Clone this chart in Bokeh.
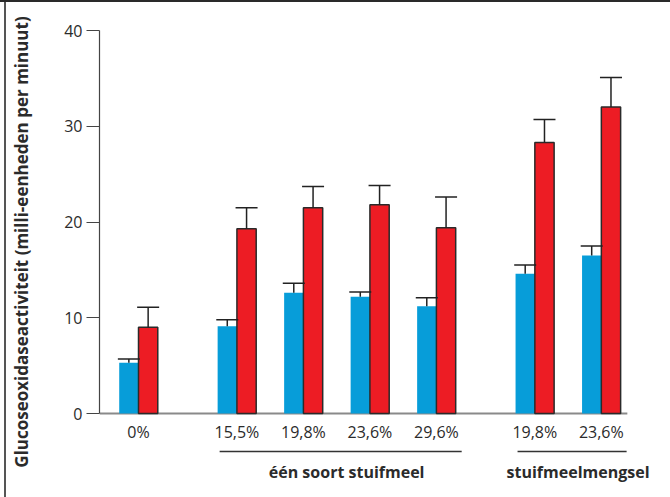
import math
from bokeh.plotting import figure
from bokeh.models import (ColumnDataSource, FixedTicker, Range1d, Whisker, TeeHead,
                          LinearAxis)
from bokeh.core.properties import value
from bokeh.embed import file_html
from bokeh.resources import INLINE

# ---- data -------------------------------------------------------------
categories = ["0%", "15,5%", "19,8%", "23,6%", "29,6%", "19,8%", "23,6%"]
group_index = [0, 1, 1, 1, 1, 2, 2]
group_names = ["", "één soort stuifmeel", "stuifmeelmengsel"]
blue_values = [5.3, 9.1, 12.6, 12.2, 11.2, 14.6, 16.5]
blue_upper = [5.7, 9.8, 13.6, 12.7, 12.1, 15.5, 17.5]
red_values = [9.0, 19.3, 21.5, 21.8, 19.4, 28.3, 32.0]
red_upper = [11.1, 21.5, 23.7, 23.8, 22.6, 30.7, 35.1]
y_ticks = [0, 10, 20, 30, 40]
y_label = "Glucoseoxidaseactiviteit (milli-eenheden per minuut)"

# ---- layout / style ---------------------------------------------------
FONT = "Open Sans"
TXT = "#2b2b2b"
BLUE = "#079dd9"
RED = "#ed1c24"
GROUP_GAP = 0.48
BAR_W = 0.29
W, H = 670, 497
LEFT, TOP, BOTTOM = 99, 30, 44   # frame borders in pixels
PX_X = 66.5                      # pixels per category step
PX_Y = 383 / 40                  # pixels per y unit
ZERO_PX = 40                     # distance of y=0 above the frame bottom

pos = [i + GROUP_GAP * g for i, g in enumerate(group_index)]
xb = [x - BAR_W / 2 for x in pos]
xr = [x + BAR_W / 2 for x in pos]

x_start = pos[0] - 39 / PX_X
x_end = x_start + (W - LEFT) / PX_X
y_start = -ZERO_PX / PX_Y

src_b = ColumnDataSource(dict(x=xb, v=blue_values, up=blue_upper))
src_r = ColumnDataSource(dict(x=xr, v=red_values, up=red_upper))

p = figure(width=W, height=H,
           x_range=Range1d(x_start, x_end), y_range=Range1d(y_start, 40),
           output_backend="svg", toolbar_location=None, x_axis_location=None,
           min_border_left=LEFT, min_border_right=0,
           min_border_top=TOP, min_border_bottom=BOTTOM)
p.outline_line_color = None
p.grid.visible = False
p.background_fill_color = "white"
p.border_fill_color = None
p.styles = {
    "background-color": "white",
    "background-image": "linear-gradient(#2a2a2a, #2a2a2a), linear-gradient(#555555, #555555)",
    "background-size": "100% 2px, 2px 100%",
    "background-position": "0 0, 4px 0",
    "background-repeat": "no-repeat",
}

# baseline (x axis line)
p.segment(x0=[x_start], y0=[0], x1=[pos[-1] + 26 / PX_X], y1=[0],
          line_color="#8a8a8a", line_width=2)

p.vbar(x="x", top="v", bottom=0, width=BAR_W, source=src_b,
       fill_color=BLUE, line_color=None)
p.vbar(x="x", top="v", bottom=0, width=BAR_W, source=src_r,
       fill_color=RED, line_color="#2a2a2a", line_width=1.5)

for src in (src_b, src_r):
    p.add_layout(Whisker(source=src, base="x", lower="v", upper="up",
                         dimension="height", line_color="#222222", line_width=1.5,
                         upper_head=TeeHead(size=22, line_color="#222222", line_width=1.5),
                         lower_head=None, level="overlay"))

# category labels
p.text(x=pos, y=[-18 / PX_Y] * len(pos), text=categories,
       text_align="center", text_baseline="middle",
       text_font=value(FONT), text_font_size="16px", text_color=TXT)

# group underlines and group-label axis
group_centers = {}
for g, name in enumerate(group_names):
    members = [x for x, gi in zip(pos, group_index) if gi == g]
    if not name or not members:
        continue
    x0, x1 = min(members), max(members)
    p.segment(x0=[x0 - 0.26], y0=[-38 / PX_Y], x1=[x1 + 0.38], y1=[-38 / PX_Y],
              line_color="#333333", line_width=1.6)
    group_centers[(x0 + x1) / 2 + 0.15] = name

gaxis = LinearAxis(ticker=FixedTicker(ticks=list(group_centers)),
                   major_label_overrides=group_centers,
                   axis_line_color=None, major_tick_line_color=None,
                   minor_tick_line_color=None, major_tick_out=0, major_tick_in=0,
                   major_label_standoff=7,
                   major_label_text_font=FONT, major_label_text_font_size="16px",
                   major_label_text_font_style="bold", major_label_text_color=TXT)
p.add_layout(gaxis, "below")

# y axis
ya = p.yaxis[0]
ya.ticker = FixedTicker(ticks=y_ticks)
ya.bounds = (0, 40)
ya.minor_tick_line_color = None
ya.major_tick_out = 13
ya.major_tick_in = 0
ya.major_tick_line_color = "#444444"
ya.major_tick_line_width = 1.2
ya.axis_line_color = "#444444"
ya.axis_line_width = 1.2
ya.major_label_text_font = FONT
ya.major_label_text_font_size = "16px"
ya.major_label_text_color = TXT
ya.major_label_standoff = 4
ya.axis_label = y_label
ya.axis_label_standoff = 28
ya.axis_label_text_font = FONT
ya.axis_label_text_font_size = "17px"
ya.axis_label_text_font_style = "bold"
ya.axis_label_text_color = TXT

open("out.html", "w").write(file_html(p, INLINE))
